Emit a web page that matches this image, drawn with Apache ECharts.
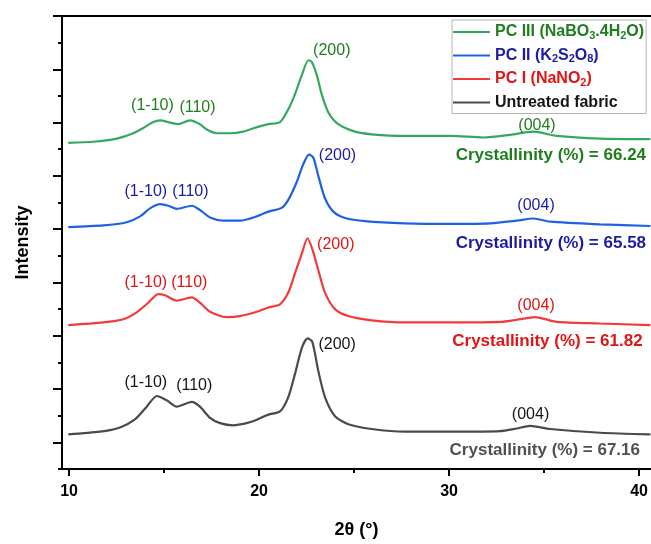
<!DOCTYPE html>
<html>
<head>
<meta charset="utf-8">
<script src="https://cdn.jsdelivr.net/npm/echarts@6/dist/echarts.min.js"></script>
<style>
  html, body { margin: 0; padding: 0; background: #ffffff; }
  #chart { width: 651px; height: 544px; }
</style>
</head>
<body>
<div id="chart"></div>
<script>
// Axis ranges and tick positions (2θ in degrees, intensity in stacked arbitrary units)
const xRange = [9.63, 40.63];
const yRange = [-0.5, 8];
const xTicks = [10, 20, 30, 40];
const xMinorTicks = [15, 25, 35];
const yTicks = [0, 1, 2, 3, 4, 5, 6, 7, 8];
const yMinorTicks = [-0.5, 0.5, 1.5, 2.5, 3.5, 4.5, 5.5, 6.5, 7.5];

// Series names (subscripts handled by the legend formatter)
const seriesNames = ['PC III (NaBO3.4H2O)', 'PC II (K2S2O8)', 'PC I (NaNO2)', 'Untreated fabric'];

// XRD patterns, vertically offset for stacking: [2θ, intensity]
const pc3 = [[9.96,5.62],[11.28,5.64],[12.51,5.70],[13.39,5.80],[13.91,5.90],[14.44,6.01],[14.79,6.04],[15.32,6.00],[15.75,5.97],[16.37,6.04],[16.89,5.97],[17.25,5.87],[17.77,5.80],[18.47,5.80],[19.17,5.83],[19.85,5.91],[20.49,5.97],[21.10,6.01],[21.54,6.25],[21.89,6.53],[22.25,6.89],[22.60,7.17],[22.77,7.14],[23.04,6.89],[23.30,6.53],[23.65,6.19],[24.17,5.97],[25.05,5.83],[25.93,5.78],[27.68,5.75],[30.10,5.75],[31.80,5.72],[33.21,5.77],[34.44,5.83],[35.67,5.75],[37.95,5.70],[40.60,5.69]];
const pc2 = [[9.96,4.04],[11.80,4.07],[13.04,4.13],[13.74,4.24],[14.26,4.39],[14.79,4.47],[15.23,4.44],[15.67,4.38],[16.46,4.44],[16.89,4.36],[17.42,4.22],[18.12,4.16],[19.00,4.16],[19.88,4.24],[20.49,4.33],[21.19,4.40],[21.54,4.55],[21.98,4.88],[22.33,5.22],[22.63,5.40],[22.86,5.34],[23.12,5.00],[23.47,4.58],[23.91,4.33],[24.53,4.21],[25.58,4.15],[27.68,4.11],[30.10,4.10],[32.16,4.11],[33.56,4.16],[34.44,4.20],[35.32,4.14],[37.95,4.09],[40.60,4.06]];
const pc1 = [[9.96,2.20],[11.80,2.25],[12.86,2.31],[13.56,2.44],[14.17,2.62],[14.70,2.78],[15.05,2.76],[15.67,2.66],[16.46,2.72],[16.89,2.62],[17.42,2.45],[18.30,2.35],[19.00,2.37],[19.88,2.45],[20.49,2.53],[21.10,2.59],[21.54,2.81],[21.89,3.17],[22.25,3.54],[22.55,3.83],[22.80,3.63],[23.12,3.23],[23.47,2.81],[24.00,2.50],[24.70,2.37],[25.93,2.29],[27.68,2.25],[30.10,2.25],[32.68,2.26],[33.56,2.30],[34.53,2.35],[35.67,2.26],[37.95,2.23],[40.60,2.20]];
const untreated = [[9.96,0.15],[11.63,0.20],[12.68,0.28],[13.47,0.43],[14.09,0.67],[14.62,0.87],[15.14,0.79],[15.67,0.67],[16.46,0.76],[16.89,0.67],[17.42,0.46],[17.95,0.36],[18.65,0.32],[19.35,0.36],[19.79,0.41],[20.49,0.52],[21.10,0.58],[21.54,0.85],[21.89,1.28],[22.25,1.77],[22.56,1.95],[22.80,1.89],[23.12,1.34],[23.47,0.85],[24.00,0.49],[24.70,0.34],[25.93,0.25],[27.68,0.20],[30.10,0.20],[32.68,0.21],[33.56,0.26],[34.26,0.31],[35.32,0.25],[37.95,0.18],[40.60,0.15]];

// Crystallinity index for each sample (%)
const crystallinity = [66.24, 65.58, 61.82, 67.16];

// Miller index labels for each pattern: [text, 2θ, intensity]
const pc3Peaks = [['(1-10)',14.39,6.31],['(110)',16.76,6.29],['(200)',23.83,7.35],['(004)',34.63,5.95]];
const pc2Peaks = [['(1-10)',14.04,4.70],['(110)',16.39,4.70],['(200)',24.13,5.39],['(004)',34.58,4.45]];
const pc1Peaks = [['(1-10)',14.04,2.99],['(110)',16.33,2.99],['(200)',24.04,3.72],['(004)',34.58,2.57]];
const untreatedPeaks = [['(1-10)',14.04,1.13],['(110)',16.59,1.06],['(200)',24.11,1.83],['(004)',34.29,0.52]];
// Anchor (right edge) of each crystallinity caption: [2θ, intensity]
const crystAnchors = [[40.37,5.39],[40.37,3.74],[40.19,1.89],[40.05,-0.15]];

const FONT = '"Liberation Sans", Arial, Helvetica, sans-serif';
const lineColors = ['#35a860', '#1f62e0', '#f23a3a', '#4a4a4a'];
const textColors = ['#1f7d1f', '#1c1ca3', '#e01414', '#151515'];
const crystColors = ['#1f7d1f', '#1c1ca3', '#e01414', '#505050'];

const patterns = [pc3, pc2, pc1, untreated];
const peakSets = [pc3Peaks, pc2Peaks, pc1Peaks, untreatedPeaks];

function markPointFor(i) {
  const items = peakSets[i].map(p => ({
    name: p[0],
    coord: [p[1], p[2]],
    label: {
      show: true, position: 'inside', formatter: '{b}',
      color: textColors[i], fontFamily: FONT, fontSize: 16, fontWeight: 'normal'
    }
  }));
  items.push({
    name: 'Crystallinity (%) = ' + crystallinity[i].toFixed(2),
    coord: crystAnchors[i],
    label: {
      show: true, position: 'left', distance: 0, formatter: '{b}',
      color: crystColors[i], fontFamily: FONT, fontSize: 17, fontWeight: 'bold'
    }
  });
  return {
    symbol: 'circle', symbolSize: 0, silent: true, animation: false,
    itemStyle: { color: 'transparent' },
    data: items
  };
}

// Legend text styles: regular run and lowered subscript run
const mainStyle = (c) => ({ color: c, fontFamily: FONT, fontSize: 16, fontWeight: 'bold', lineHeight: 18, verticalAlign: 'middle' });
const subStyle = (c) => ({ color: c, fontFamily: FONT, fontSize: 11, fontWeight: 'bold', lineHeight: 9, verticalAlign: 'bottom' });

const legendText = {
  'PC III (NaBO3.4H2O)': '{g|PC III (NaBO}{gs|3}{g|.4H}{gs|2}{g|O)}',
  'PC II (K2S2O8)': '{b|PC II (K}{bs|2}{b|S}{bs|2}{b|O}{bs|8}{b|)}',
  'PC I (NaNO2)': '{r|PC I (NaNO}{rs|2}{r|)}',
  'Untreated fabric': '{k|Untreated fabric}'
};

const chart = echarts.init(document.getElementById('chart'), null, { renderer: 'canvas' });

const axisLineStyle = { color: '#000', width: 2 };

chart.setOption({
  animation: false,
  backgroundColor: '#ffffff',
  grid: { left: 62, right: 0, top: 16, bottom: 63, containLabel: false },
  legend: {
    orient: 'vertical',
    left: 452, top: 20,
    padding: [4, 2, 3, 1],
    itemGap: 6.5,
    itemWidth: 37, itemHeight: 2,
    icon: 'rect',
    borderColor: '#b5b5b5', borderWidth: 1,
    backgroundColor: '#ffffff',
    selectedMode: false,
    data: seriesNames,
    formatter: name => legendText[name],
    textStyle: {
      fontFamily: FONT, fontSize: 16, fontWeight: 'bold',
      rich: {
        g: mainStyle(textColors[0]), gs: subStyle(textColors[0]),
        b: mainStyle(textColors[1]), bs: subStyle(textColors[1]),
        r: mainStyle(textColors[2]), rs: subStyle(textColors[2]),
        k: mainStyle(textColors[3])
      }
    }
  },
  xAxis: [
    {
      type: 'value', position: 'bottom', min: xRange[0], max: xRange[1],
      name: '2θ (°)', nameLocation: 'middle', nameGap: 52,
      nameTextStyle: { fontFamily: FONT, fontSize: 18, fontWeight: 'bold', color: '#000' },
      axisLine: { show: true, onZero: false, lineStyle: axisLineStyle },
      axisTick: { show: true, inside: false, length: 7, customValues: xTicks, lineStyle: { color: '#000', width: 2 } },
      axisLabel: { show: true, customValues: xTicks, margin: 15, fontFamily: FONT, fontSize: 16, fontWeight: 'bold', color: '#000' },
      splitLine: { show: false }
    },
    {
      type: 'value', position: 'bottom', min: xRange[0], max: xRange[1],
      axisLine: { show: false, onZero: false },
      axisTick: { show: true, inside: false, length: 4, customValues: xMinorTicks, lineStyle: { color: '#000', width: 2 } },
      axisLabel: { show: false },
      splitLine: { show: false }
    },
    {
      type: 'value', position: 'top', min: xRange[0], max: xRange[1],
      axisLine: { show: true, onZero: false, lineStyle: axisLineStyle },
      axisTick: { show: false },
      axisLabel: { show: false },
      splitLine: { show: false }
    }
  ],
  yAxis: [
    {
      type: 'value', position: 'left', min: yRange[0], max: yRange[1],
      name: 'Intensity', nameLocation: 'middle', nameGap: 30, nameRotate: 90,
      nameTextStyle: { fontFamily: FONT, fontSize: 18, fontWeight: 'bold', color: '#000' },
      axisLine: { show: true, onZero: false, lineStyle: axisLineStyle },
      axisTick: { show: true, inside: false, length: 9, customValues: yTicks, lineStyle: { color: '#000', width: 2 } },
      axisLabel: { show: false },
      splitLine: { show: false }
    },
    {
      type: 'value', position: 'left', min: yRange[0], max: yRange[1],
      axisLine: { show: false, onZero: false },
      axisTick: { show: true, inside: false, length: 4, customValues: yMinorTicks, lineStyle: { color: '#000', width: 2 } },
      axisLabel: { show: false },
      splitLine: { show: false }
    }
  ],
  series: patterns.map((data, i) => ({
    name: seriesNames[i],
    type: 'line',
    xAxisIndex: 0, yAxisIndex: 0,
    data: data,
    showSymbol: false,
    symbol: 'none',
    smooth: 0.25,
    color: lineColors[i],
    lineStyle: { color: lineColors[i], width: 2.2 },
    z: 4 - i,
    markPoint: markPointFor(i)
  }))
});
</script>
</body>
</html>
